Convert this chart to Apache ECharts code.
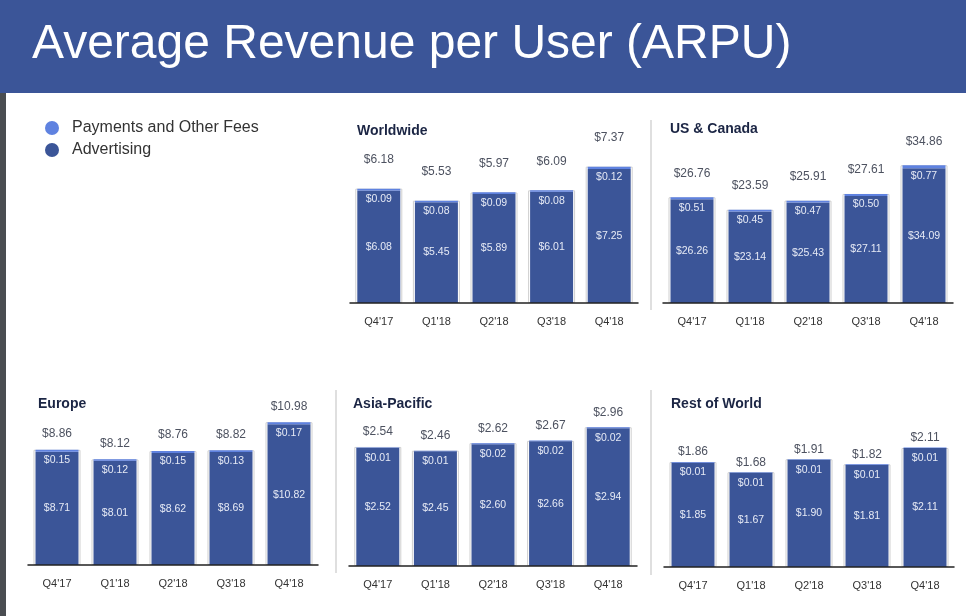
<!DOCTYPE html>
<html>
<head>
<meta charset="utf-8">
<title>ARPU</title>
<script src="https://cdn.jsdelivr.net/npm/echarts@6/dist/echarts.min.js"></script>
<style>
  html, body { margin: 0; padding: 0; background: #fff; }
  #chart { width: 966px; height: 616px; }
</style>
</head>
<body>
<div id="chart"></div>
<script>
// ---- data
const quarters = ["Q4'17", "Q1'18", "Q2'18", "Q3'18", "Q4'18"];

const wwAds = [6.08, 5.45, 5.89, 6.01, 7.25];
const wwPay = [0.09, 0.08, 0.09, 0.08, 0.12];
const wwTotal = [6.18, 5.53, 5.97, 6.09, 7.37];

const usAds = [26.26, 23.14, 25.43, 27.11, 34.09];
const usPay = [0.51, 0.45, 0.47, 0.50, 0.77];
const usTotal = [26.76, 23.59, 25.91, 27.61, 34.86];

const euAds = [8.71, 8.01, 8.62, 8.69, 10.82];
const euPay = [0.15, 0.12, 0.15, 0.13, 0.17];
const euTotal = [8.86, 8.12, 8.76, 8.82, 10.98];

const apAds = [2.52, 2.45, 2.60, 2.66, 2.94];
const apPay = [0.01, 0.01, 0.02, 0.02, 0.02];
const apTotal = [2.54, 2.46, 2.62, 2.67, 2.96];

const rowAds = [1.85, 1.67, 1.90, 1.81, 2.11];
const rowPay = [0.01, 0.01, 0.01, 0.01, 0.01];
const rowTotal = [1.86, 1.68, 1.91, 1.82, 2.11];

const FONT = 'Liberation Sans, Arial, Helvetica, sans-serif';
const DARK = '#3b5598';
const LIGHT = '#5f82e0';

// panel layout
const panels = [
    { title: 'Worldwide', ads: wwAds, pay: wwPay, total: wwTotal, left: 350, width: 288, top: 155, height: 148, max: 8, dist: 23, tx: 357, ty: 124 },
    { title: 'US & Canada', ads: usAds, pay: usPay, total: usTotal, left: 663, width: 290, top: 145, height: 158, max: 40, dist: 18, tx: 670, ty: 122 },
    { title: 'Europe', ads: euAds, pay: euPay, total: euTotal, left: 28, width: 290, top: 409, height: 156, max: 12, dist: 10, tx: 38, ty: 397 },
    { title: 'Asia-Pacific', ads: apAds, pay: apPay, total: apTotal, left: 349, width: 288, top: 416, height: 150, max: 3.2, dist: 9, tx: 353, ty: 397 },
    { title: 'Rest of World', ads: rowAds, pay: rowPay, total: rowTotal, left: 664, width: 290, top: 426, height: 141, max: 2.5, dist: 4, tx: 671, ty: 397 }
];

function money(p) {
    return '$' + Number(p.value).toFixed(2);
}

var grids = [], xAxes = [], yAxes = [], series = [], titles = [];

panels.forEach(function (p, i) {
    grids.push({ left: p.left, width: p.width, top: p.top, height: p.height });
    titles.push({
        text: p.title, left: p.tx, top: p.ty, padding: 0,
        textStyle: { fontFamily: FONT, fontSize: 14, fontWeight: 'bold', color: '#1b2544' }
    });
    // visible category axis
    xAxes.push({
        type: 'category', gridIndex: i, data: quarters, z: 10,
        axisLine: { lineStyle: { color: '#222', width: 1.5 } },
        axisTick: { show: false },
        axisLabel: { fontFamily: FONT, fontSize: 11, color: '#333', margin: 13 }
    });
    // hidden axis for the outline / total bar
    xAxes.push({ type: 'category', gridIndex: i, data: quarters, show: false });
    yAxes.push({ type: 'value', gridIndex: i, min: 0, max: p.max, show: false });

    series.push({
        name: 'Total', type: 'bar', xAxisIndex: i * 2 + 1, yAxisIndex: i,
        data: p.total, barWidth: 47, silent: true,
        itemStyle: { color: '#fff', borderColor: '#cfcfcf', borderWidth: 1 },
        label: {
            show: true, position: 'top', distance: p.dist, formatter: money,
            fontFamily: FONT, fontSize: 12, color: '#4d5260'
        },
        z: 1
    });
    series.push({
        name: 'Advertising', type: 'bar', xAxisIndex: i * 2, yAxisIndex: i,
        stack: 'arpu' + i, data: p.ads, barWidth: 43,
        itemStyle: { color: DARK },
        label: {
            show: true, position: 'inside', formatter: money,
            fontFamily: FONT, fontSize: 10.5, color: '#e6eaf5'
        },
        z: 2
    });
    series.push({
        name: 'Payments and Other Fees', type: 'bar', xAxisIndex: i * 2, yAxisIndex: i,
        stack: 'arpu' + i, data: p.pay, barWidth: 43,
        itemStyle: { color: LIGHT },
        label: {
            show: true, position: ['50%', 5], align: 'center', verticalAlign: 'top',
            formatter: money, fontFamily: FONT, fontSize: 10.5, color: '#e6eaf5'
        },
        z: 3
    });
});

var chart = echarts.init(document.getElementById('chart'));
chart.setOption({
    animation: false,
    backgroundColor: '#fff',
    title: titles,
    legend: {
        data: ['Payments and Other Fees', 'Advertising'],
        orient: 'vertical', left: 40, top: 115,
        icon: 'circle', itemWidth: 14, itemHeight: 14, itemGap: 6,
        textStyle: { fontFamily: FONT, fontSize: 16, color: '#333', padding: [0, 0, 0, 8] }
    },
    grid: grids,
    xAxis: xAxes,
    yAxis: yAxes,
    series: series,
    graphic: [
        { type: 'rect', shape: { x: 0, y: 0, width: 966, height: 93 }, style: { fill: '#3b5598' }, silent: true },
        { type: 'rect', shape: { x: 0, y: 93, width: 6, height: 523 }, style: { fill: '#4a4d51' }, silent: true },
        {
            type: 'text', x: 32, y: 45, silent: true,
            style: {
                text: 'Average Revenue per User (ARPU)', fill: '#fff',
                font: '48px ' + FONT, verticalAlign: 'middle'
            }
        },
        { type: 'line', shape: { x1: 651, y1: 120, x2: 651, y2: 310 }, style: { stroke: '#d4d4d4', lineWidth: 1.5 }, silent: true },
        { type: 'line', shape: { x1: 336, y1: 390, x2: 336, y2: 573 }, style: { stroke: '#d4d4d4', lineWidth: 1.5 }, silent: true },
        { type: 'line', shape: { x1: 651, y1: 390, x2: 651, y2: 575 }, style: { stroke: '#d4d4d4', lineWidth: 1.5 }, silent: true }
    ]
});
</script>
</body>
</html>
